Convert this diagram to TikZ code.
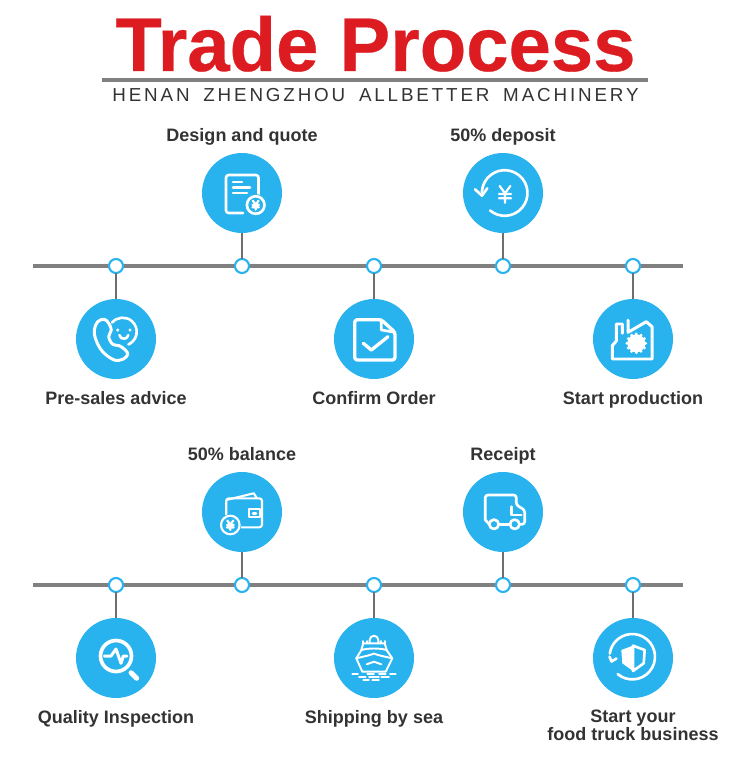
\documentclass[tikz,border=0pt]{standalone}
\usepackage{fontspec}
\setmainfont{Liberation Sans}
\newfontfamily\subfont[LetterSpace=15.2,WordSpace=1.7]{Liberation Sans}
\usetikzlibrary{calc,positioning}

\begin{document}
\begin{tikzpicture}[x=0.02cm, y=-0.02cm,
    disc/.style={circle, fill=sky, minimum size=1.6cm, inner sep=0pt, outer sep=0pt},
    dot/.style={circle, draw=sky, fill=white, line width=1.2pt, minimum size=0.28cm, inner sep=0pt, outer sep=0pt},
    rail/.style={draw=rule, line width=2.4pt},
    stem/.style={draw=stemgray, line width=1.3pt},
    caption/.style={font=\fontsize{10.25}{10.25}\selectfont\bfseries, text=ink, inner sep=0pt, text height=7.5pt, text depth=2pt},
    glyph/.style={draw=white, line width=1.5pt, line cap=round, line join=round},
    thin glyph/.style={draw=white, line width=1.1pt, line cap=round, line join=round},
    yenmark/.pic={
      \draw[glyph, line width=1.25pt] (-4,-6) -- (0,-0.5) -- (4,-6) (0,-0.5) -- (0,6.5) (-4.5,0) -- (4.5,0) (-4.5,3.2) -- (4.5,3.2);
    },
    iconquote/.pic={
      \draw[glyph, rounded corners=1.5pt] (1,20) -- (-16,20) -- (-16,-18) -- (16.5,-18) -- (16.5,2);
      \draw[glyph] (-9,-11) -- (0,-11) (-9,-5.7) -- (8,-5.7) (-9,0) -- (5,0);
      \fill[sky] (13.7,12) circle (11);
      \draw[glyph] (13.7,12) circle (8.8);
      \pic[scale=0.72] at (13.7,12) {yenmark};
    },
    icondeposit/.pic={
      \draw[glyph] (1.7,0) ++(130:22.8) arc[start angle=130, end angle=-178, radius=22.8];
      \draw[glyph] (-28,-3.7) -- (-21,2.7) -- (-15.7,-4.7);
      \pic[scale=1.35] at (2,1) {yenmark};
    },
    iconadvice/.pic={
      \draw[glyph, line width=1.7pt] plot[smooth cycle, tension=0.6] coordinates {(-21.7,-9) (-18.3,-17.3) (-11.7,-19.7) (-7.3,-15.7) (-4.7,-9) (-7.3,-2.3) (-3.3,5.3) (3.3,6.7) (9.3,11) (11.7,15.3) (7.3,20) (-1.7,21) (-13.3,12.7) (-20,1)};
      \draw[glyph] (6.7,-7.3) ++(-139:14) arc[start angle=-139, end angle=66, radius=14];
      \fill[white] (1.7,-9) circle (1.7) (14,-9) circle (1.7);
      \draw[glyph] (7.8,-4.7) ++(170:4.5) arc[start angle=170, end angle=10, radius=4.5];
    },
    iconorder/.pic={
      \draw[glyph, line width=1.9pt, rounded corners=1.5pt] (7.3,-19.3) -- (21,-6.7) -- (21,21) -- (-19.3,21) -- (-19.3,-19.3) -- cycle;
      \draw[glyph] (7.3,-19.3) -- (7.3,-9) -- (21,-6.7);
      \draw[glyph, line width=1.9pt] (-10.7,4.3) -- (-2.7,11) -- (14,-2.3);
    },
    iconfactory/.pic={
      \draw[glyph, line width=1.7pt] (-10.7,-5.7) -- (-10.7,-15) -- (-16.7,-15) -- (-16.7,2) -- (-20.7,6.7) -- (-20.7,20) -- (19,20) -- (19,-12.3) -- (13.3,-17.3) -- (-5,-6.7) -- (-5,-19);
      \fill[white] (3.3,4.3) circle (9);
      \foreach \ang in {0,30,...,330} {\fill[white] (3.3,4.3) ++(\ang:9.3) circle (1.6);}
    },
    iconbalance/.pic={
      \draw[glyph, line width=1.2pt, rounded corners=1.5pt] (-5,15.3) -- (20,15.3) -- (20,-13.7) -- (-15.7,-13.7) -- (-15.7,5);
      \draw[glyph, line width=1.2pt] (-15.7,-12) -- (11.7,-18.7) -- (15,-13.7);
      \draw[glyph, line width=1.2pt] (6.7,-2.7) rectangle (18.3,5.3);
      \draw[glyph] (11,1.3) -- (14,1.3);
      \fill[sky] (-11.7,13) circle (11);
      \draw[glyph, line width=1.2pt] (-11.7,13) circle (9.3);
      \pic[scale=0.75] at (-11.7,13) {yenmark};
    },
    iconreceipt/.pic={
      \draw[glyph, rounded corners=1.5pt] (-17.7,8) -- (-17.7,-17) -- (13.3,-17) -- (13.3,-7) -- (21.7,-2) -- (21.7,12.3) -- (16.4,12.3);
      \draw[glyph] (-17.7,8) -- (-13.7,12.3);
      \draw[glyph] (-9,12.3) circle (4.7) (11.7,12.3) circle (4.7);
      \draw[glyph] (-4.3,12.3) -- (7,12.3);
      \draw[glyph] (8.3,-5.3) -- (8.3,3) -- (18.3,3);
    },
    iconinspect/.pic={
      \draw[glyph, line width=2.1pt] (0,-2) circle (15.5);
      \draw[glyph, line width=2.8pt] (15,14.7) -- (20.7,20.3);
      \draw[glyph, line width=1.7pt] (-11.7,-2) -- (-5,-2) -- (0,-9) -- (5,5.3) -- (7.3,-2) -- (11,-2);
    },
    iconsea/.pic={
      \draw[thin glyph] (-17.7,0.3) -- (-12.5,-8) .. controls (-6,-10) and (6,-10) .. (12.5,-8) -- (18.3,0.3) -- (11.7,13.7) -- (-11.7,13.7) -- cycle;
      \draw[thin glyph] (-17.7,0.3) .. controls (-8,-2) and (-3,-3) .. (0,-4.5) .. controls (3,-3) and (8,-2) .. (18.3,0.3);
      \draw[thin glyph] (-12.7,-8) -- (-10.7,-14.7) -- (10.7,-14.7) -- (12.7,-8);
      \draw[thin glyph] (-10.7,-14.7) -- (-10.7,-17) (-7.3,-14.7) -- (-7.3,-17) (7.3,-14.7) -- (7.3,-17) (10.7,-14.7) -- (10.7,-17);
      \draw[thin glyph] (-4.3,-14.7) -- (-4.3,-18) arc[start angle=180, end angle=360, radius=4.3] -- (4.3,-14.7);
      \draw[thin glyph] (-7.3,6.3) -- (0,3.7) -- (7.3,6.3);
      \draw[thin glyph] (-21.7,15.7) -- (-16,15.7) (-6.7,15.7) -- (0,15.7) (5,15.7) -- (11.7,15.7) (16,15.7) -- (21.7,15.7);
      \draw[thin glyph] (-15,18.7) -- (-8.3,18.7) (-5,18.7) -- (5,18.7) (7.3,18.7) -- (15,18.7);
      \draw[thin glyph] (-10.7,22) -- (-5,22) (-1.7,22) -- (5,22);
    },
    iconfinish/.pic={
      \draw[glyph] (-0.7,-1.3) ++(130:22.7) arc[start angle=130, end angle=-172, radius=22.7];
      \draw[glyph] (-23.5,-1.3) -- (-21.5,3.5) -- (-16.5,0.5);
      \fill[white] (0,-12.3) -- (-11.7,-8) -- (-10.7,5.3) -- (0,13) -- cycle;
      \draw[glyph] (0,-12.3) -- (11.7,-8) -- (10.7,5.3) -- (0,13) -- cycle;
    }]
  \definecolor{sky}{HTML}{29B3EE}
  \definecolor{rule}{HTML}{808080}
  \definecolor{stemgray}{HTML}{6E6E6E}
  \definecolor{ink}{HTML}{333333}
  \definecolor{title}{HTML}{DC1C20}
  \useasboundingbox[fill=white] (0,0) rectangle (750,757);

  % heading
  \node[inner sep=0pt, anchor=base, text=title, font=\fontsize{43.3}{43.3}\selectfont\bfseries\addfontfeature{FakeBold=0.4}] (head) at (375.5,71) {Trade Process};
  \coordinate (ruleL) at (102,80);
  \coordinate (ruleR) at (648,80);
  \draw[rail] (ruleL) -- (ruleR);
  \node[inner sep=0pt, anchor=base, text=ink, font=\subfont\fontsize{10.7}{10.7}\selectfont] (sub) at (375.5,102) {HENAN ZHENGZHOU ALLBETTER MACHINERY};

  % first row
  \coordinate (railAL) at (33,266);
  \coordinate (railAR) at (683,266);
  \draw[rail] (railAL) -- (railAR);
  \node[dot] (adviceDot) at (116,266) {};
  \node[dot] (quoteDot) at (242,266) {};
  \node[dot] (orderDot) at (374,266) {};
  \node[dot] (depositDot) at (503,266) {};
  \node[dot] (factoryDot) at (633,266) {};
  \node[disc] (advice) at (116,339) {};
  \node[disc] (quote) at (242,193) {};
  \node[disc] (order) at (374,339) {};
  \node[disc] (deposit) at (503,193) {};
  \node[disc] (factory) at (633,339) {};
  \draw[stem] (adviceDot) -- (advice);
  \draw[stem] (quoteDot) -- (quote);
  \draw[stem] (orderDot) -- (order);
  \draw[stem] (depositDot) -- (deposit);
  \draw[stem] (factoryDot) -- (factory);
  \pic at (advice) {iconadvice};
  \pic at (quote) {iconquote};
  \pic at (order) {iconorder};
  \pic at (deposit) {icondeposit};
  \pic at (factory) {iconfactory};
  \node[caption, below=0.24cm of advice] (adviceText) {Pre-sales advice};
  \node[caption, above=0.15cm of quote] (quoteText) {Design and quote};
  \node[caption, below=0.24cm of order] (orderText) {Confirm Order};
  \node[caption, above=0.15cm of deposit] (depositText) {50\% deposit};
  \node[caption, below=0.24cm of factory] (factoryText) {Start production};

  % second row
  \coordinate (railBL) at (33,585);
  \coordinate (railBR) at (683,585);
  \draw[rail] (railBL) -- (railBR);
  \node[dot] (inspectDot) at (116,585) {};
  \node[dot] (balanceDot) at (242,585) {};
  \node[dot] (seaDot) at (374,585) {};
  \node[dot] (receiptDot) at (503,585) {};
  \node[dot] (finishDot) at (633,585) {};
  \node[disc] (inspect) at (116,658) {};
  \node[disc] (balance) at (242,512) {};
  \node[disc] (sea) at (374,658) {};
  \node[disc] (receipt) at (503,512) {};
  \node[disc] (finish) at (633,658) {};
  \draw[stem] (inspectDot) -- (inspect);
  \draw[stem] (balanceDot) -- (balance);
  \draw[stem] (seaDot) -- (sea);
  \draw[stem] (receiptDot) -- (receipt);
  \draw[stem] (finishDot) -- (finish);
  \pic at (inspect) {iconinspect};
  \pic at (balance) {iconbalance};
  \pic at (sea) {iconsea};
  \pic at (receipt) {iconreceipt};
  \pic at (finish) {iconfinish};
  \node[caption, below=0.24cm of inspect] (inspectText) {Quality Inspection};
  \node[caption, above=0.15cm of balance] (balanceText) {50\% balance};
  \node[caption, below=0.24cm of sea] (seaText) {Shipping by sea};
  \node[caption, above=0.15cm of receipt] (receiptText) {Receipt};
  \node[caption, below=0.24cm of finish, align=center, text height=, text depth=] (finishText) {Start your\\food truck business};
\end{tikzpicture}
\end{document}
